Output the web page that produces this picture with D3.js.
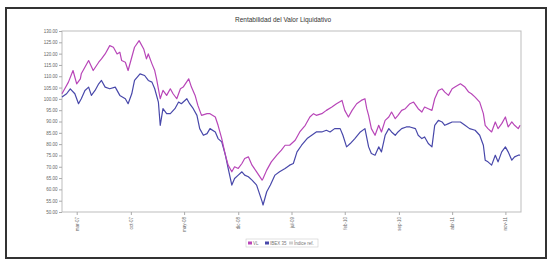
<!DOCTYPE html>
<html><head><meta charset="utf-8">
<script src="https://cdn.jsdelivr.net/npm/d3@7/dist/d3.min.js"></script>
<style>html,body{margin:0;padding:0;background:#fff;}svg{display:block;font-family:"Liberation Sans",Arial,sans-serif;}</style>
</head><body>
<svg id="c" width="552" height="260"></svg>
<script>
const title = "Rentabilidad del Valor Liquidativo";
const seriesNames = ["VL", "IBEX 35", "Índice ref."];
const seriesColors = ["#b846b8", "#4848aa", "#d0d0d0"];

const vlYears = [2007.00,2007.03,2007.07,2007.12,2007.16,2007.20,2007.21,2007.29,2007.34,2007.40,2007.43,2007.47,2007.52,2007.56,2007.60,2007.63,2007.65,2007.69,2007.72,2007.76,2007.79,2007.84,2007.89,2007.92,2007.94,2007.98,2008.01,2008.03,2008.07,2008.10,2008.14,2008.18,2008.21,2008.25,2008.29,2008.32,2008.38,2008.41,2008.45,2008.48,2008.52,2008.58,
2008.612,2008.67,2008.70,2008.74,2008.78,2008.81,2008.85,2008.88,2008.92,2008.96,2008.99,2009.03,2009.07,2009.12,2009.18,2009.19,2009.23,2009.28,2009.34,2009.39,2009.43,2009.48,2009.54,2009.59,2009.65,2009.70,2009.74,2009.77,2009.83,2009.88,2009.94,2009.99,2010.05,2010.08,2010.12,2010.16,2010.21,2010.26,2010.30,2010.32,
2010.34,2010.37,2010.41,2010.45,2010.48,2010.52,2010.56,2010.59,2010.63,2010.66,2010.70,2010.74,2010.79,2010.83,2010.88,2010.92,2010.95,2010.99,2011.03,2011.06,2011.10,2011.14,2011.17,2011.21,2011.25,2011.28,2011.34,2011.39,2011.43,2011.46,2011.50,2011.55,2011.59,2011.61,2011.64,2011.68,2011.72,2011.75,2011.79,2011.83,2011.86,2011.90,2011.93,2011.97,2011.99];
const vlValues = [102.26,104.46,107.40,112.53,106.66,108.87,111.07,116.94,112.53,116.20,117.67,119.87,123.54,122.81,119.87,120.61,116.94,116.20,112.53,118.40,122.81,125.74,122.07,117.67,119.87,115.47,112.53,108.87,100.06,103.73,101.53,104.46,102.26,100.06,104.46,105.20,108.87,105.20,101.53,97.12,92.72,93.46,
93.46,91.99,88.32,82.45,75.11,70.71,67.77,69.97,69.24,71.44,73.64,74.37,70.71,67.77,64.10,64.83,68.51,72.17,75.11,77.31,79.51,79.51,81.71,85.38,88.32,91.99,93.46,92.72,93.46,94.92,96.39,97.86,99.33,94.92,91.99,94.92,97.86,99.33,100.06,95.66,
92.72,86.85,83.91,88.32,85.38,90.52,91.99,94.19,91.25,92.72,94.92,95.66,97.86,98.59,95.66,94.19,96.39,95.66,94.92,100.06,103.73,104.46,102.99,101.53,104.46,105.20,106.66,105.20,102.99,102.26,100.79,98.59,93.46,88.32,86.85,85.38,89.79,86.85,89.05,91.99,87.59,89.79,88.32,86.85,88.32];

const ibexYears = [2007.00,2007.05,2007.09,2007.14,2007.18,2007.21,2007.25,2007.29,2007.32,2007.36,2007.40,2007.43,2007.47,2007.52,2007.58,2007.63,2007.69,2007.72,2007.76,2007.79,2007.85,2007.90,2007.94,2007.98,2008.01,2008.05,2008.07,2008.10,2008.14,2008.18,2008.23,2008.27,2008.30,2008.36,2008.39,2008.43,2008.47,2008.50,2008.54,2008.58,
2008.612,2008.67,2008.70,2008.74,2008.78,2008.81,2008.85,2008.88,2008.92,2008.96,2008.99,2009.03,2009.07,2009.12,2009.18,2009.19,2009.23,2009.27,2009.32,2009.37,2009.43,2009.48,2009.52,2009.56,2009.61,2009.67,2009.72,2009.77,2009.83,2009.88,2009.92,2009.97,2010.03,2010.06,2010.10,2010.14,2010.19,2010.25,2010.30,
2010.34,2010.37,2010.41,2010.45,2010.48,2010.52,2010.56,2010.59,2010.63,2010.66,2010.70,2010.75,2010.79,2010.85,2010.88,2010.92,2010.95,2010.99,2011.03,2011.06,2011.10,2011.14,2011.17,2011.21,2011.25,2011.30,2011.34,2011.39,2011.44,2011.50,2011.55,2011.59,2011.61,2011.64,2011.68,2011.72,2011.75,2011.79,2011.83,2011.86,2011.90,2011.93,2011.97,2011.99];
const ibexValues = [100.79,102.26,104.46,102.26,97.86,100.06,103.73,105.20,101.53,103.73,106.66,108.13,105.20,104.46,105.20,101.53,100.06,97.86,102.26,108.13,111.07,110.33,108.13,107.40,104.46,98.59,88.32,95.66,93.46,93.46,95.66,98.59,97.86,100.06,97.86,95.66,92.72,86.85,83.91,84.65,
86.85,85.38,82.45,80.98,75.11,69.24,61.90,64.83,66.30,67.77,66.30,65.57,64.10,61.90,54.56,53.09,58.96,61.90,66.30,67.77,69.24,70.71,71.44,76.58,79.51,82.45,83.91,85.38,85.38,86.12,85.38,86.85,86.85,83.91,78.78,80.25,82.45,85.38,86.85,
78.78,75.84,75.11,78.78,76.58,83.91,86.85,85.38,83.91,85.38,86.85,87.59,87.59,86.85,83.91,82.45,83.18,80.25,78.78,88.32,90.52,89.79,88.32,89.05,89.79,89.79,89.79,88.32,86.85,86.12,83.91,79.51,72.91,72.17,70.71,75.11,72.17,76.58,78.78,76.58,72.91,74.37,75.11,75.11];

const xTickYears = [2007.16,2007.75,2008.33,2008.92,2009.50,2010.08,2010.67,2011.25,2011.83];
const xTickLabels = ["mar-07","oct-07","may-08","dic-08","jul-09","feb-10","sep-10","abr-11","nov-11"];
const yTicks = [50,55,60,65,70,75,80,85,90,95,100,105,110,115,120,125,130];

const svg = d3.select("#c");
svg.append("rect").attr("x",6).attr("y",8).attr("width",540).attr("height",250)
  .attr("fill","#fff").attr("stroke","#333").attr("stroke-width",2);

const L=62, R=521, T=31, B=212;
const x = d3.scaleLinear().domain([2007,2012]).range([L,R]);
const y = d3.scaleLinear().domain([50,130]).range([B,T]);

svg.append("text").attr("x",283).attr("y",22).attr("text-anchor","middle")
  .attr("font-size",6.5).attr("fill","#333").text(title);

svg.append("rect").attr("x",L).attr("y",T).attr("width",R-L).attr("height",B-T)
  .attr("fill","none").attr("stroke","#bdbdbd").attr("stroke-width",1);

const ya = svg.append("g").attr("transform",`translate(${L},0)`)
  .call(d3.axisLeft(y).tickValues(yTicks).tickFormat(d3.format(".2f")).tickSize(3).tickPadding(1.5));
ya.select(".domain").remove();
ya.selectAll("line").attr("stroke","#aaa");
ya.selectAll("text").attr("font-size",4.5).attr("fill","#666").attr("font-family","Liberation Sans, Arial, sans-serif");

const xa = svg.append("g").attr("transform",`translate(0,${B})`)
  .call(d3.axisBottom(x).tickValues(xTickYears).tickFormat((d,i)=>xTickLabels[i]).tickSize(3));
xa.select(".domain").remove();
xa.selectAll("line").attr("stroke","#aaa");
xa.selectAll("text").attr("font-size",4.5).attr("fill","#666").attr("font-family","Liberation Sans, Arial, sans-serif")
  .attr("text-anchor","end").attr("transform","rotate(-90)").attr("x",-5).attr("y",0).attr("dy","0.35em");

const line = d3.line().x(d=>x(d[0])).y(d=>y(d[1]));
const vl = vlYears.map((t,i)=>[t,vlValues[i]]);
const ib = ibexYears.map((t,i)=>[t,ibexValues[i]]);
svg.append("path").datum(ib).attr("d",line).attr("fill","none").attr("stroke",seriesColors[1]).attr("stroke-width",1.2).attr("stroke-linejoin","round");
svg.append("path").datum(vl).attr("d",line).attr("fill","none").attr("stroke",seriesColors[0]).attr("stroke-width",1.2).attr("stroke-linejoin","round");

const lg = svg.append("g");
lg.append("rect").attr("x",246).attr("y",239).attr("width",72).attr("height",8).attr("fill","#fff").attr("stroke","#ccc").attr("stroke-width",0.6);
const lx = [248, 265, 289];
seriesNames.forEach((n,i)=>{
  lg.append("rect").attr("x",lx[i]).attr("y",241.5).attr("width",4).attr("height",3).attr("fill",seriesColors[i]);
  lg.append("text").attr("x",lx[i]+5).attr("y",244.6).attr("font-size",4.5).attr("fill","#777").text(n);
});
</script>
</body></html>
